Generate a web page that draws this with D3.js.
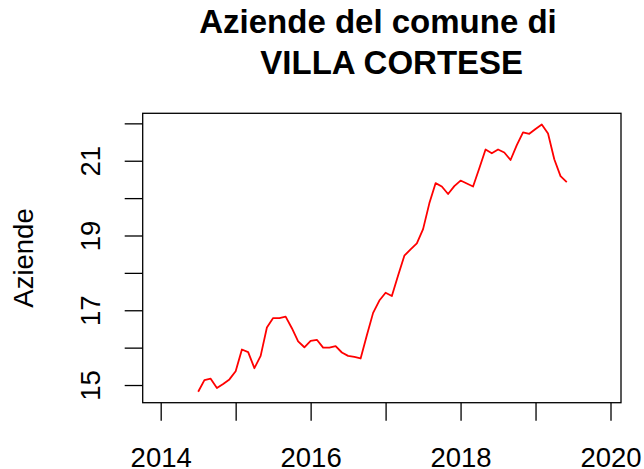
<!DOCTYPE html>
<html>
<head>
<meta charset="utf-8">
<script src="https://cdn.jsdelivr.net/npm/d3@7"></script>
<style>
  body { margin: 0; background: #fff; }
  svg { display: block; font-family: "Liberation Sans", Arial, sans-serif; }
</style>
</head>
<body>
<div id="chart"></div>
<script>
// Monthly series, July 2014 -> June 2019
var months = d3.timeMonth.range(new Date(2014, 6, 1), new Date(2019, 6, 1));
var aziende = [
    14.82, 15.13, 15.17, 14.92, 15.03, 15.15, 15.37, 15.95, 15.88, 15.45, 15.78, 16.54,
    16.79, 16.79, 16.83, 16.52, 16.17, 16.01, 16.18, 16.21, 16.00, 16.00, 16.04, 15.87,
    15.78, 15.75, 15.71, 16.33, 16.93, 17.26, 17.47, 17.38, 17.93, 18.46, 18.63, 18.79,
    19.17, 19.86, 20.40, 20.31, 20.11, 20.32, 20.47, 20.39, 20.31, 20.80, 21.30, 21.20,
    21.30, 21.22, 21.02, 21.42, 21.76, 21.72, 21.85, 21.97, 21.73, 21.04, 20.59, 20.43
];
var xTicks = [2014, 2015, 2016, 2017, 2018, 2019, 2020];
var yTicks = [15, 16, 17, 18, 19, 20, 21, 22];
var xLabelled = [2014, 2016, 2018, 2020];
var yLabelled = [15, 17, 19, 21];
var titleLines = ["Aziende del comune di", "VILLA CORTESE"];

var width = 644, height = 469;
var plot = {left: 142.7, right: 621, top: 113.3, bottom: 402.7};
var tickLen = 18;

var svg = d3.select("#chart").append("svg")
    .attr("width", width)
    .attr("height", height);

var x = d3.scaleLinear()
    .domain([2013.76, 2020.14])
    .range([plot.left, plot.right]);
var y = d3.scaleLinear()
    .domain([14.527, 22.269])
    .range([plot.bottom, plot.top]);

function decYear(d) {
    return d.getFullYear() + d.getMonth() / 12;
}

// x axis
var gx = svg.append("g")
    .attr("transform", "translate(0," + plot.bottom + ")")
    .call(d3.axisBottom(x)
        .tickValues(xTicks)
        .tickSize(tickLen)
        .tickSizeOuter(0)
        .tickFormat(function(d){ return xLabelled.indexOf(d) >= 0 ? d : ""; }));
gx.select(".domain").remove();
gx.selectAll(".tick line").attr("stroke", "#000").attr("stroke-width", 1.3);
gx.selectAll(".tick text")
    .attr("y", 64)
    .attr("dy", 0)
    .attr("fill", "#000")
    .style("font-size", "27.5px")
    .style("font-family", "'Liberation Sans', Arial, sans-serif");

// y axis
var gy = svg.append("g")
    .attr("transform", "translate(" + plot.left + ",0)")
    .call(d3.axisLeft(y)
        .tickValues(yTicks)
        .tickSize(tickLen)
        .tickSizeOuter(0)
        .tickFormat(function(d){ return yLabelled.indexOf(d) >= 0 ? d : ""; }));
gy.select(".domain").remove();
gy.selectAll(".tick line").attr("stroke", "#000").attr("stroke-width", 1.3);
gy.selectAll(".tick text")
    .attr("x", 0)
    .attr("dy", 0)
    .attr("transform", "translate(-42.7,0) rotate(-90)")
    .attr("text-anchor", "middle")
    .attr("fill", "#000")
    .style("font-size", "27.5px")
    .style("font-family", "'Liberation Sans', Arial, sans-serif");

// box
svg.append("rect")
    .attr("x", plot.left)
    .attr("y", plot.top)
    .attr("width", plot.right - plot.left)
    .attr("height", plot.bottom - plot.top)
    .attr("fill", "none")
    .attr("stroke", "#000")
    .attr("stroke-width", 1.3);

// series
var line = d3.line()
    .x(function(d, i){ return x(decYear(months[i])); })
    .y(function(d){ return y(d); });
svg.append("path")
    .datum(aziende)
    .attr("d", line)
    .attr("fill", "none")
    .attr("stroke", "#ff0000")
    .attr("stroke-width", 1.8)
    .attr("stroke-linejoin", "round");

// y label
svg.append("text")
    .attr("transform", "translate(33.3,258) rotate(-90)")
    .attr("text-anchor", "middle")
    .style("font-size", "27.5px")
    .text("Aziende");

// title
var titleX = [378, 391.7], titleY = [32.7, 74];
svg.selectAll("text.title")
    .data(titleLines)
    .enter().append("text")
    .attr("class", "title")
    .attr("x", function(d, i){ return titleX[i]; })
    .attr("y", function(d, i){ return titleY[i]; })
    .attr("text-anchor", "middle")
    .style("font-size", "33px")
    .style("font-weight", "bold")
    .text(function(d){ return d; });
</script>
</body>
</html>
